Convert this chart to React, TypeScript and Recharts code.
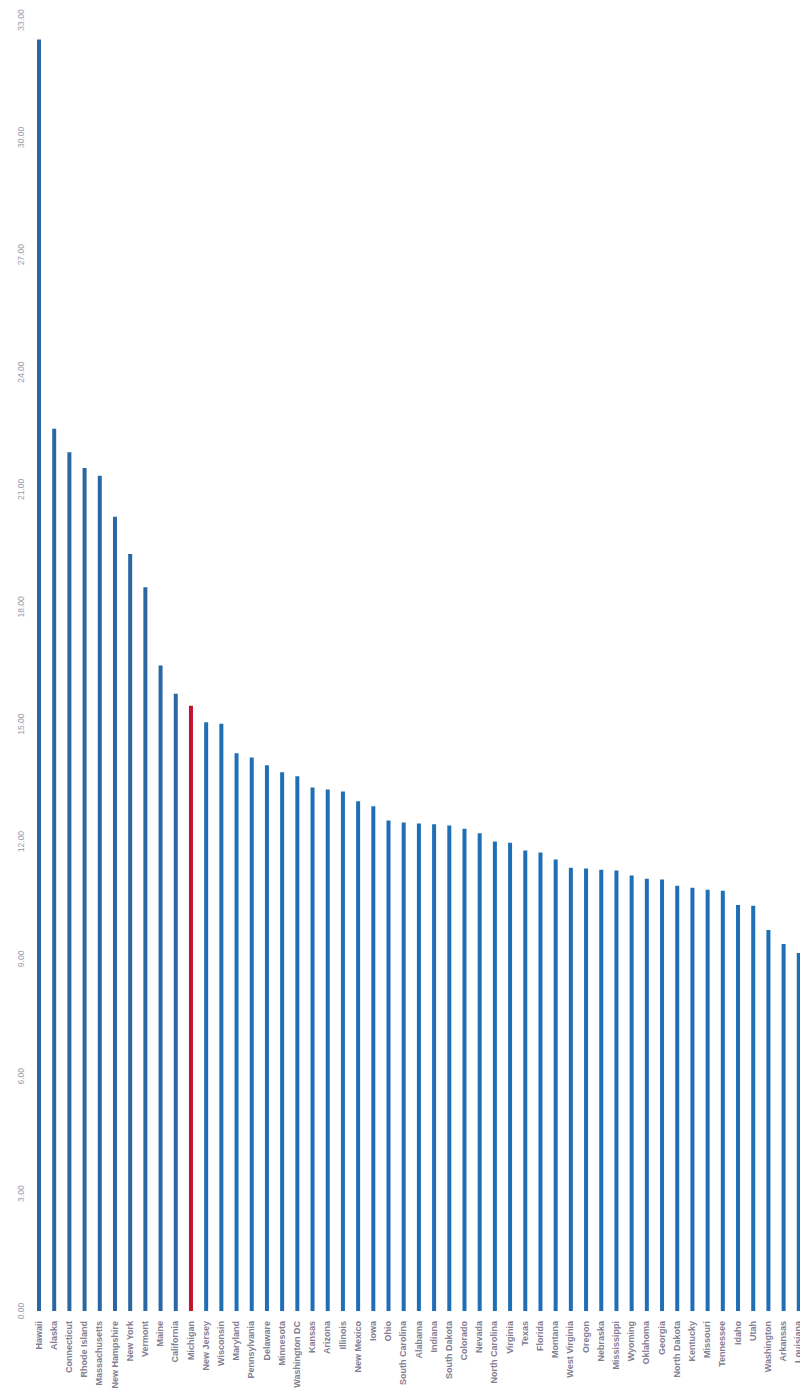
import { Bar, BarChart, Cell, XAxis, YAxis } from "recharts";

const STATES = [
  "Hawaii", "Alaska", "Connecticut", "Rhode Island", "Massachusetts", "New Hampshire",
  "New York", "Vermont", "Maine", "California", "Michigan", "New Jersey", "Wisconsin",
  "Maryland", "Pennsylvania", "Delaware", "Minnesota", "Washington DC", "Kansas", "Arizona",
  "Illinois", "New Mexico", "Iowa", "Ohio", "South Carolina", "Alabama", "Indiana",
  "South Dakota", "Colorado", "Nevada", "North Carolina", "Virginia", "Texas", "Florida",
  "Montana", "West Virginia", "Oregon", "Nebraska", "Mississippi", "Wyoming", "Oklahoma",
  "Georgia", "North Dakota", "Kentucky", "Missouri", "Tennessee", "Idaho", "Utah",
  "Washington", "Arkansas", "Louisiana",
];

const PRICES = [
  32.5, 22.55, 21.95, 21.55, 21.35, 20.3, 19.35, 18.5, 16.5, 15.78, 15.47, 15.05, 15.01,
  14.26, 14.15, 13.95, 13.77, 13.67, 13.38, 13.33, 13.28, 13.03, 12.9, 12.54, 12.49, 12.46,
  12.44, 12.41, 12.33, 12.21, 12.0, 11.97, 11.77, 11.72, 11.54, 11.33, 11.31, 11.28, 11.26,
  11.13, 11.05, 11.03, 10.87, 10.82, 10.77, 10.74, 10.38, 10.36, 9.74, 9.38, 9.15,
];

const Y_TICKS = [0, 3, 6, 9, 12, 15, 18, 21, 24, 27, 30, 33];

const HIGHLIGHT = "Michigan";

const data = STATES.map((state, i) => ({ state, price: PRICES[i] }));

function barColor(state: string, i: number) {
  if (state === HIGHLIGHT) return "#c4122f";
  if (i < 10) return "#2b67a3";
  return "#1f6fb6";
}

function StateTick({ x, y, payload }: any) {
  return (
    <text
      x={x}
      y={y}
      transform={`rotate(-90 ${x} ${y})`}
      textAnchor="end"
      dominantBaseline="central"
      fill="#827e92"
      fontSize={9}
      fontWeight="bold"
      fontFamily="Liberation Sans, Arial, sans-serif"
    >
      {payload.value}
    </text>
  );
}

function ValueTick({ y, payload }: any) {
  const x = 21;
  return (
    <text
      x={x}
      y={y}
      transform={`rotate(-90 ${x} ${y})`}
      textAnchor="middle"
      dominantBaseline="central"
      fill="#9d9aab"
      fontSize={8.5}
      fontFamily="Liberation Sans, Arial, sans-serif"
    >
      {payload.value.toFixed(2)}
    </text>
  );
}

export default function App() {
  return (
    <div style={{ position: "absolute", left: 0, top: 0, width: 806, height: 1391, overflow: "hidden", background: "#fff" }}>
      <BarChart
        width={806}
        height={1480}
        data={data}
        margin={{ top: 20, right: 0, bottom: 69, left: 11 }}
        barCategoryGap={0}
      >
        <XAxis
          dataKey="state"
          interval={0}
          axisLine={false}
          tickLine={false}
          tick={<StateTick />}
          height={100}
          tickMargin={4}
        />
        <YAxis
          domain={[0, 33]}
          ticks={Y_TICKS}
          axisLine={false}
          tickLine={false}
          width={20}
          tick={<ValueTick />}
        />
        <Bar dataKey="price" barSize={4} isAnimationActive={false}>
          {data.map((d, i) => (
            <Cell key={d.state} fill={barColor(d.state, i)} />
          ))}
        </Bar>
      </BarChart>
    </div>
  );
}
